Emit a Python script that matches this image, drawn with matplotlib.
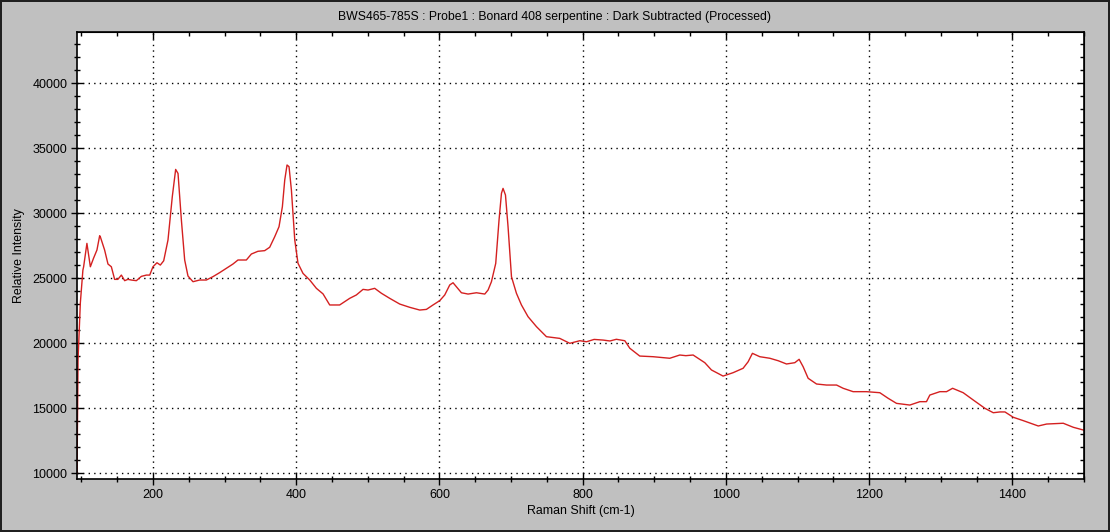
"""
Raman spectrum of serpentine sample, redrawn from screenshot.
"""

import numpy as np
import matplotlib
matplotlib.use('Agg')
import matplotlib.pyplot as plt
from matplotlib.ticker import MultipleLocator, NullFormatter

# Raman shift (cm-1) and relative intensity
shift = [94, 95.4, 98.6, 102.2, 103.2, 107.8, 112.6, 117, 121.8, 125.6, 126.5, 132.5,
         137.2, 141.9, 146.5, 151, 155.9, 160.5, 165, 169.8, 176.8, 183.8, 190.8,
         195.5, 200, 205.6, 210.3, 215, 221, 227, 231.7, 235, 239.7, 244.3, 248.9,
         255.9, 265.2, 274.6, 283.8, 293.2, 302.5, 311.7, 318.7, 330.4, 337.4,
         346.6, 356, 363, 370, 376, 380.7, 384, 387.2, 390, 393.3, 398, 402.5,
         409.5, 418.9, 428.2, 437.5, 446.8, 460.7, 467.7, 474.7, 484, 493.3,
         500.3, 509.6, 519, 530.6, 544.6, 558.5, 572.5, 581.8, 591, 600.4, 607.4,
         614.4, 619, 623.7, 630.7, 640, 651.7, 663.3, 667.9, 672.6, 678.6, 683.2,
         686.6, 688.8, 692.2, 695.8, 700.6, 707.5, 714.5, 723.7, 735.5, 749.4,
         768, 782, 796, 805.3, 816, 828.5, 838, 847, 858.8, 865.8, 879.7, 898.3,
         921.6, 935.6, 944, 954.2, 961.2, 970.5, 979.8, 996, 1010, 1024, 1031,
         1037, 1047.3, 1061.3, 1073, 1084.6, 1096.2, 1102.2, 1107.8, 1114.8,
         1126.5, 1140.5, 1154.5, 1163.7, 1177.6, 1196.3, 1214.9, 1226.5, 1238.2,
         1256.8, 1270.8, 1280, 1284.7, 1298.7, 1308, 1316.5, 1331.3, 1345.3,
         1361.6, 1373.3, 1382.6, 1389.6, 1401.2, 1415.2, 1436.1, 1447.8, 1471,
         1485, 1499]
intensity = [10000, 18720, 23100, 25640, 25890, 27690, 25890, 26540, 27180, 28280,
             28200, 27180, 26100, 25890, 24920, 24920, 25250, 24820, 24920, 24870,
             24820, 25150, 25250, 25250, 25890, 26200, 26020, 26350, 27950, 31280,
             33380, 33070, 29480, 26410, 25180, 24740, 24870, 24870, 25130, 25440,
             25770, 26100, 26410, 26410, 26870, 27080, 27130, 27390, 28200, 28970,
             30510, 32560, 33720, 33590, 31800, 27950, 26160, 25380, 24870, 24230,
             23800, 22950, 22950, 23200, 23460, 23720, 24150, 24100, 24230, 23850,
             23460, 23020, 22770, 22560, 22610, 22950, 23280, 23720, 24490, 24660,
             24350, 23890, 23790, 23890, 23790, 24100, 24740, 26150, 29480, 31540,
             31920, 31410, 28970, 25120, 23850, 22950, 22050, 21280, 20510, 20380,
             20000, 20200, 20120, 20300, 20250, 20180, 20310, 20200, 19620, 19020,
             18970, 18850, 19100, 19050, 19100, 18850, 18510, 17950, 17480, 17740,
             18080, 18580, 19230, 18970, 18850, 18660, 18410, 18510, 18770, 18200,
             17310, 16870, 16790, 16790, 16540, 16280, 16280, 16200, 15770, 15380,
             15250, 15510, 15510, 16020, 16280, 16280, 16540, 16200, 15640, 15000,
             14660, 14720, 14720, 14310, 14050, 13640, 13790, 13850, 13540, 13330]

title = 'BWS465-785S : Probe1 : Bonard 408 serpentine : Dark Subtracted (Processed)'

plt.rcParams['font.family'] = ['Liberation Sans', 'DejaVu Sans']
plt.rcParams['font.size'] = 9

fig = plt.figure(figsize=(11.1, 5.32), dpi=100)
fig.patch.set_facecolor('#c0c0c0')
fig.patch.set_edgecolor('#202020')
fig.patch.set_linewidth(1.5)

ax = fig.add_axes([0.0694, 0.0996, 0.9072, 0.8402])
ax.set_facecolor('white')
ax.plot(shift, intensity, color='#d42020', lw=1)

ax.set_xlim(94, 1500)
ax.set_ylim(9560, 43950)
ax.xaxis.set_major_locator(MultipleLocator(200))
ax.xaxis.set_minor_locator(MultipleLocator(50))
ax.yaxis.set_major_locator(MultipleLocator(5000))
ax.yaxis.set_minor_locator(MultipleLocator(1000))
ax.tick_params(which='major', direction='inout', length=8, width=1, colors='black',
               labelsize=9, pad=3)
ax.tick_params(which='minor', direction='inout', length=5, width=1)
ax.grid(True, which='major', color='black', linestyle=(0, (1, 3)), linewidth=1)

for side in ax.spines:
    ax.spines[side].set_linewidth(1.2)
    ax.spines[side].set_color('black')

# ticks pointing inwards on the top and right edges
top = ax.secondary_xaxis('top')
top.xaxis.set_major_locator(MultipleLocator(200))
top.xaxis.set_minor_locator(MultipleLocator(50))
top.xaxis.set_major_formatter(NullFormatter())
top.tick_params(which='major', direction='in', length=5, width=1)
top.tick_params(which='minor', direction='in', length=3, width=1)

right = ax.secondary_yaxis('right')
right.yaxis.set_major_locator(MultipleLocator(5000))
right.yaxis.set_minor_locator(MultipleLocator(1000))
right.yaxis.set_major_formatter(NullFormatter())
right.tick_params(which='major', direction='in', length=5, width=1)
right.tick_params(which='minor', direction='in', length=3, width=1)

ax.set_xlabel('Raman Shift (cm-1)', fontsize=8.9, labelpad=3)
ax.set_ylabel('Relative Intensity', fontsize=8.9, labelpad=5)
fig.text(0.5, 0.968, title, ha='center', va='center', fontsize=8.8)

fig.savefig('out.png', dpi=100, facecolor=fig.get_facecolor(), edgecolor=fig.get_edgecolor())
